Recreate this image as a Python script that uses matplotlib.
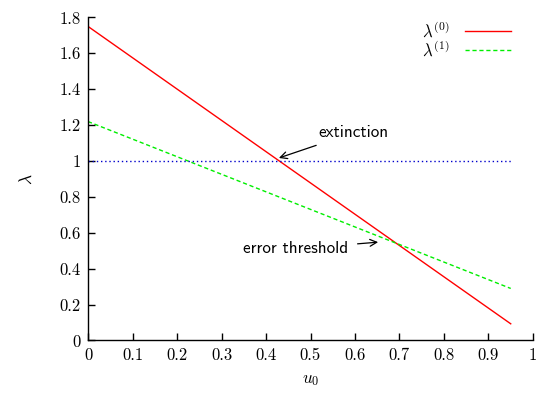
import numpy as np
import matplotlib
matplotlib.use("Agg")
import matplotlib.pyplot as plt
from matplotlib.ticker import FuncFormatter

# data
u0 = [0.0, 0.95]
lam0 = [1.75, 0.093]
lam1 = [1.22, 0.29]
extinction_level = [1.0, 1.0]

x_ticks = [0, 0.1, 0.2, 0.3, 0.4, 0.5, 0.6, 0.7, 0.8, 0.9, 1]
y_ticks = [0, 0.2, 0.4, 0.6, 0.8, 1, 1.2, 1.4, 1.6, 1.8]

plt.rcParams['mathtext.fontset'] = 'cm'
plt.rcParams['font.family'] = 'cmr10'
plt.rcParams['axes.formatter.use_mathtext'] = True

fig = plt.figure(figsize=(5.4, 3.93), dpi=100)
ax = fig.add_axes([0.163, 0.1336, 0.824, 0.822])

ax.plot(u0, lam0, color='#ff0000', lw=1.0, label=r'$\lambda^{(0)}$')
ax.plot(u0, lam1, color='#00ee00', lw=1.0, ls=(0, (3, 2)), label=r'$\lambda^{(1)}$')
ax.plot(u0, extinction_level, color='#0000cc', lw=1.0, ls=(0, (1, 2)))

ax.annotate('extinction', xy=(0.429, 1.017), xytext=(0.517, 1.157),
            fontsize=12.3, family='cmss10', va='center', ha='left',
            arrowprops=dict(arrowstyle='->', color='black', lw=0.9,
                            shrinkA=5, shrinkB=0))
ax.annotate('error threshold', xy=(0.652, 0.548), xytext=(0.584, 0.51),
            fontsize=12.3, family='cmss10', va='center', ha='right',
            arrowprops=dict(arrowstyle='->', color='black', lw=0.9,
                            shrinkA=5, shrinkB=0))

ax.set_xlim(0, 1)
ax.set_ylim(0, 1.8)
ax.set_xticks(x_ticks)
ax.set_yticks(y_ticks)
fmt = FuncFormatter(lambda v, p: '%g' % v)
ax.xaxis.set_major_formatter(fmt)
ax.yaxis.set_major_formatter(fmt)
ax.tick_params(direction='in', length=5, width=1, labelsize=12, pad=5)
ax.tick_params(top=False, right=False)
for s in ['top', 'right']:
    ax.spines[s].set_visible(False)
for s in ['left', 'bottom']:
    ax.spines[s].set_linewidth(1.0)

ax.set_xlabel(r'$u_0$', fontsize=12.5, labelpad=7)
ax.set_ylabel(r'$\lambda$', fontsize=12.5, labelpad=18)

ax.legend(loc='upper right', frameon=False, markerfirst=False, fontsize=12,
          handlelength=2.8, handletextpad=0.9, labelspacing=-0.05,
          borderaxespad=0.0, bbox_to_anchor=(0.966, 1.012))

fig.savefig('out.png', dpi=100)
